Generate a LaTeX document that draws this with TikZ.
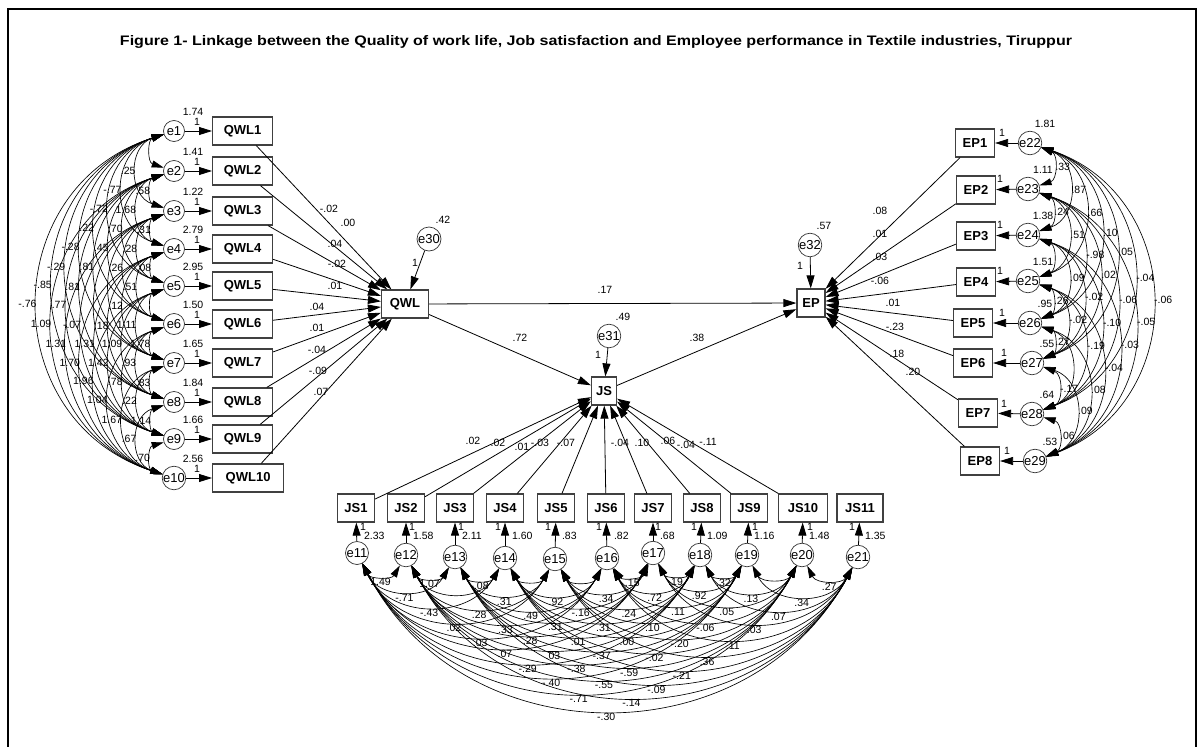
\documentclass[tikz,border=0pt]{standalone}
\usepackage{fontspec}
\setmainfont{Liberation Sans}
\usepackage{graphicx}
\usetikzlibrary{arrows.meta}
\begin{document}
\begin{tikzpicture}[x=1pt,y=-1pt,
  box/.style={draw=black!75,line width=1.2pt,minimum height=28pt,inner sep=1pt,font=\fontsize{13}{14}\selectfont\bfseries},
  err/.style={circle,draw=black!80,line width=0.7pt,minimum size=#1,inner sep=0pt,font=\fontsize{13}{14}\selectfont},
  err/.default=21pt,
  num/.style={inner sep=0.8pt,font=\fontsize{10.5}{11}\selectfont},
  arr/.style={-{Triangle[length=13pt,width=8pt]},line width=0.8pt},
  cov/.style={{Triangle[length=12pt,width=7pt]}-{Triangle[length=12pt,width=7pt]},line width=0.65pt},
  covL/.style={cov,bend right=72,looseness=1.32},
  covR/.style={cov,bend left=70,looseness=1.27},
  covB/.style={cov,bend right=62,looseness=1.14},
  labL/.style={num,midway,anchor=east,inner sep=1pt},
  labR/.style={num,midway,anchor=west,inner sep=1.5pt},
  labB/.style={num,midway,anchor=north,inner sep=2.5pt},
]
\useasboundingbox (0,0) rectangle (1203,747);
\draw[line width=2pt] (8,770) -- (8,9) -- (1196,9) -- (1196,770);

\node (title) at (596,42) {\resizebox{952pt}{10pt}{\bfseries Figure 1- Linkage between the Quality of work life, Job satisfaction and Employee performance in Textile industries, Tiruppur}};

% ---------- latent / structural nodes ----------
\node[box,minimum width=47pt] (QWL) at (405,304) {QWL};
\node[box,minimum width=25pt] (JS) at (604,391) {JS};
\node[box,minimum width=28pt] (EP) at (811,303) {EP};
\node[err=24pt] (e30) at (429,239) {e30};
\node[err=23pt] (e31) at (609,336) {e31};
\node[err=23pt] (e32) at (810,245) {e32};
\draw[arr] (e30) -- (QWL);
\draw[arr] (e31) -- (JS);
\draw[arr] (e32) -- (EP);
\node[num] (v30) at (443,220) {.42};
\node[num] (v31) at (623,317) {.49};
\node[num] (v32) at (824,226) {.57};
\node[num] (o30) at (415,263) {1};
\node[num] (o31) at (598,355) {1};
\node[num] (o32) at (800,266) {1};
\draw[arr] (QWL) -- (EP);
\draw[arr] (QWL) -- (JS);
\draw[arr] (JS) -- (EP);
\node[num] (p1) at (605,290) {.17};
\node[num] (p2) at (520,338) {.72};
\node[num] (p3) at (697,338) {.38};

% ---------- QWL block ----------
\foreach \i/\y/\w/\v in {1/131/60/1.74,2/171/60/1.41,3/211/60/1.22,4/249/60/2.79,5/286/60/2.95,6/324/60/1.50,7/363/60/1.65,8/402/60/1.84,9/439/60/1.66,10/478/71/2.56}{
  \node[err] (e\i) at (174,\y) {e\i};
  \node[box,minimum width=\w pt,anchor=west] (QWL\i) at (212,\y) {QWL\i};
  \draw[arr] (e\i) -- (QWL\i);
  \node[num] (ve\i) at (193,\y-19) {\v};
  \node[num] (oe\i) at (197,\y-9) {1};
}
\foreach \i/\lx/\ly/\v in {1/329/209/-.02,2/348/223/.00,3/335/244/.04,4/337/264/-.02,5/335/286/.01,6/317/307/.04,7/317/328/.01,8/317/350/-.04,9/318/371/-.09,10/321/392/.07}{
  \draw[arr] (QWL\i) -- (QWL);
  \node[num] (lq\i) at (\lx,\ly) {\v};
}
\foreach \i/\j/\v in {1/2/{},1/3/.25,1/4/-.77,1/5/-.72,1/6/.22,1/7/-.28,1/8/-.29,1/9/-.85,1/10/-.76,
  2/3/.58,2/4/1.68,2/5/.70,2/6/.45,2/7/.81,2/8/.81,2/9/.77,2/10/1.09,
  3/4/-.31,3/5/.28,3/6/.26,3/7/{},3/8/{},3/9/-.07,3/10/1.31,
  4/5/.08,4/6/.51,4/7/.12,4/8/.18,4/9/1.31,4/10/1.70,
  5/6/{},5/7/1.11,5/8/1.09,5/9/1.42,5/10/1.96,
  6/7/1.78,6/8/.93,6/9/.78,6/10/1.04,
  7/8/.83,7/9/.22,7/10/1.67,
  8/9/1.14,8/10/.67,
  9/10/.70}{
  \draw[covL] (e\i) to node[labL]{\v} (e\j);
}

% ---------- EP block ----------
\foreach \i/\ex/\ey/\n/\bx/\by/\v in {22/1030/143/1/975/143/1.81,23/1028/189/2/976/190/1.11,24/1028/235/3/976/236/1.38,25/1028/281/4/976/282/1.51,26/1030/323/5/973/323/.95,27/1032/363/6/973/363/.55,28/1032/414/7/978/413/.64,29/1035/461/8/980/461/.53}{
  \node[err=23pt] (e\i) at (\ex,\ey) {e\i};
  \node[box,minimum width=39pt] (EP\n) at (\bx,\by) {EP\n};
  \draw[arr] (e\i) -- (EP\n);
  \node[num] (ve\i) at (\ex+15,\ey-19) {\v};
  \node[num] (oe\i) at (\ex-28,\ey-10) {1};
}
\foreach \n/\lx/\ly/\v in {1/880/211/.08,2/880/234/.01,3/880/257/.03,4/880/281/-.06,5/893/303/.01,6/895/327/-.23,7/897/354/.18,8/913/372/.20}{
  \draw[arr] (EP\n) -- (EP);
  \node[num] (lp\n) at (\lx,\ly) {\v};
}
\foreach \i/\j/\v in {22/23/.33,22/24/.87,22/25/.66,22/26/.10,22/27/.05,22/28/-.04,22/29/-.06,
  23/24/.24,23/25/.51,23/26/-.98,23/27/.02,23/28/-.06,23/29/-.05,
  24/25/{},24/26/.09,24/27/-.02,24/28/-.10,24/29/-.03,
  25/26/.26,25/27/-.02,25/28/-.19,25/29/-.04,
  26/27/.27,26/28/{},26/29/.08,
  27/28/-.17,27/29/.09,
  28/29/.06}{
  \draw[covR] (e\i) to node[labR]{\v} (e\j);
}

% ---------- JS block ----------
\foreach \i/\bx/\ex/\ey/\w/\o/\v in {1/356/357/553/37/6/2.33,2/406/406/555/37/6/1.58,3/455/455/557/37/6/2.11,4/505/505/558/37/-7/1.60,5/556/555/559/37/-7/.83,6/606/607/558/37/-8/.82,7/653/653/553/37/5/.68,8/702/700/555/37/-6/1.09,9/749/747/555/37/8/1.16,10/803/802/555/49/8/1.48,11/860/858/557/46/-6/1.35}{
  \pgfmathtruncatemacro\k{\i+10}
  \node[box,minimum width=\w pt] (JS\i) at (\bx,508) {JS\i};
  \node[err=23pt] (e\k) at (\ex,\ey) {e\k};
  \draw[arr] (e\k) -- (JS\i);
  \node[num] (oe\k) at (\ex+\o,527) {1};
  \node[num,anchor=west] (ve\k) at (\ex+6,536) {\v};
}
\foreach \i/\lx/\ly/\v in {1/473/441/.02,2/498/443/.02,3/522/447/.01,4/540/443/-.03,5/566/443/-.07,6/620/443/-.04,7/642/443/.10,8/668/441/.06,9/686/445/-.04,10/708/442/-.11}{
  \draw[arr] (JS\i) -- (JS);
  \node[num] (lj\i) at (\lx,\ly) {\v};
}
\foreach \i/\j/\v in {11/12/1.49,12/13/1.07,13/14/-.08,14/15/{},15/16/{},16/17/.15,17/18/.19,18/19/.32,19/20/{},20/21/.27,
  11/13/-.71,12/14/{},13/15/.31,14/16/.92,15/17/.34,16/18/.72,17/19/.92,18/20/.13,19/21/.34,
  11/14/-.43,12/15/.28,13/16/.49,14/17/-.16,15/18/.24,16/19/.11,17/20/.05,18/21/.07,
  11/15/.02,12/16/.33,13/17/.31,14/18/.31,15/19/.10,16/20/-.06,17/21/.03,
  11/16/.03,12/17/.28,13/18/.01,14/19/.00,15/20/-.20,16/21/.11,
  11/17/.07,12/18/.03,13/19/-.37,14/20/-.02,15/21/.36,
  11/18/-.29,12/19/-.38,13/20/-.59,14/21/-.21,
  11/19/-.40,12/20/-.55,13/21/-.09,
  11/20/-.71,12/21/-.14,
  11/21/-.30}{
  \draw[covB] (e\i) to node[labB]{\v} (e\j);
}
\end{tikzpicture}
\end{document}
